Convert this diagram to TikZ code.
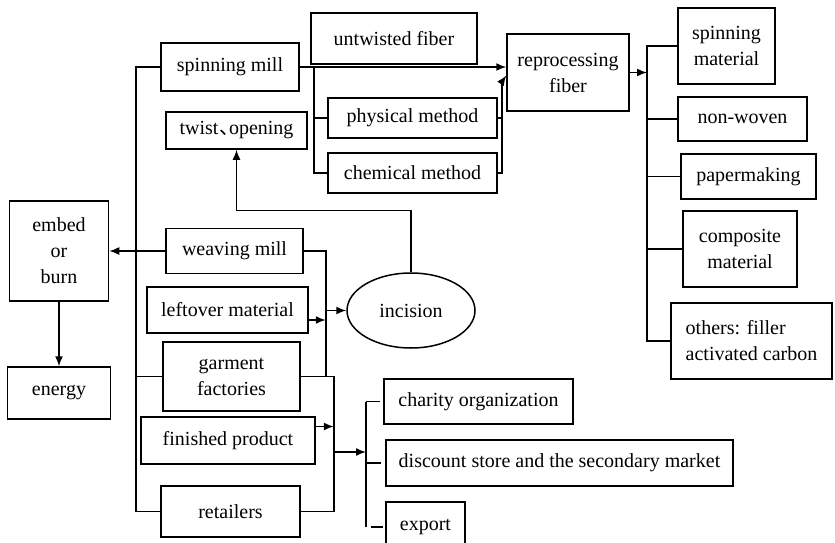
\documentclass[tikz,border=0pt]{standalone}
\usepackage{fontspec}
\setmainfont{Liberation Serif}
\newfontfamily\cjk{Noto Sans CJK SC}
\usepackage{tikz}
\usetikzlibrary{calc,shapes,arrows.meta}
\usetikzlibrary{positioning}

\begin{document}
\begin{tikzpicture}[x=1pt,y=-1pt,
		box/.style={draw,line width=1.5pt,inner sep=2pt,align=center,font=\fontsize{20}{26}\selectfont},
		ln/.style={line width=1.5pt},
		arr/.style={line width=1.5pt,-{Latex[length=10pt,width=8pt]}}]
			
			\useasboundingbox (0,0) rectangle (835,543);
			
			% left column
			\node[box,minimum width=138,minimum height=48] (spin) at (230,67) {spinning mill};
			\node[box,minimum width=141,minimum height=37] (twist) at (236.5,130.5) {twist\kern0.03em{\cjk 、}\kern-0.5em opening};
			\node[box,minimum width=137,minimum height=45] (weave) at (234.5,251) {weaving mill};
			\node[box,minimum width=161,minimum height=46] (left) at (227.5,310) {leftover material};
			\node[box,minimum width=137,minimum height=69] (garm) at (231.5,376.5) {garment\\factories};
			\node[box,minimum width=174,minimum height=47] (fin) at (228,440.5) {finished product};
			\node[box,minimum width=139,minimum height=51] (retail) at (230.5,511.5) {retailers};
			
			\node[box,minimum width=99,minimum height=100] (embed) at (59,251) {embed\\or\\burn};
			\node[box,minimum width=103,minimum height=52] (energy) at (59,393) {energy};
			
			% middle
			\node[box,minimum width=166,minimum height=51] (untw) at (394,38.5) {untwisted fiber};
			\node[box,minimum width=169,minimum height=40] (phys) at (412.5,118) {physical method};
			\node[box,minimum width=169,minimum height=40] (chem) at (412.5,173) {chemical method};
			\node[box,minimum width=122,minimum height=77] (repro) at (568,72.5) {reprocessing\\fiber};
			\node[draw,ellipse,line width=1.5pt,minimum width=128,minimum height=75,font=\fontsize{20}{26}\selectfont] (inc) at (411,310.5) {incision};
			
			% right column
			\node[box,minimum width=97,minimum height=76] (spmat) at (726.5,46) {spinning\\material};
			\node[box,minimum width=129,minimum height=44] (nonw) at (742.5,119) {non-woven};
			\node[box,minimum width=135,minimum height=45] (paper) at (748.5,176.5) {papermaking};
			\node[box,minimum width=114,minimum height=76] (compo) at (740,249) {composite\\material};
			\node[box,minimum width=161,minimum height=76,align=left] (others) at (751.5,341) {others: filler\\activated carbon};
			
			% bottom
			\node[box,minimum width=189,minimum height=45] (charity) at (478.5,401.5) {charity organization};
			\node[box,minimum width=347,minimum height=46] (disc) at (559.5,463) {discount store and the secondary market};
			\node[box,minimum width=79,minimum height=50] (export) at (425.5,527) {export};
			
			\coordinate (trunk) at (136,0);
			\coordinate (rt) at (647,0);
			\coordinate (bk) at (366,452);
			
			% trunk on the left
			\draw[ln] (spin.west) -- (spin.west -| trunk) -- (retail.west -| trunk) -- (retail.west);
			\draw[ln] (weave.west) -- (weave.west -| trunk);
			\draw[ln] (garm.west) -- (garm.west -| trunk);
			\draw[arr] (embed.east -| trunk) -- (embed.east);
			\draw[arr] (embed.south) -- (energy.north);
			
			% spinning mill branch
			\draw[ln] (spin.east) -- ++(14,0) coordinate (sj) -- (sj |- chem.west) -- (chem.west);
			\draw[ln] (sj |- phys.west) -- (phys.west);
			\draw[arr] (sj) -- (sj -| repro.west);
			\draw[ln] (phys.east) -- ++(4,0);
			\draw[ln] (chem.east) -- ++(4,0) -- ++(0,-91) coordinate (cj);
			\draw[arr] (cj) -- ($(repro.west)+(0,3)$);
			
			% reprocessing fiber to products
			\draw[arr] (repro.east) -- (repro.east -| rt);
			\draw[ln] (spmat.west) -- (spmat.west -| rt) -- (others.west -| rt) -- (others.west);
			\draw[ln] (nonw.west -| rt) -- (nonw.west);
			\draw[ln] (paper.west -| rt) -- (paper.west);
			\draw[ln] (compo.west -| rt) -- (compo.west);
			
			% incision
			\draw[arr] (inc.north) -- ++(0,-62) -| (twist.south);
			\draw[ln] (weave.east) -- ++(22,0) coordinate (wj) -- (wj |- garm.east);
			\draw[arr] ($(left.east)+(0,10)$) -- ($(left.east -| wj)+(0,10)$);
			\draw[arr] (wj |- inc.west) -- (inc.west);
			
			% garments and second hand
			\draw[ln] (garm.east) -- ++(33,0) coordinate (gj) -- (gj |- retail.east) -- (retail.east);
			\draw[arr] ($(fin.east)+(0,-14)$) -- ($(fin.east -| gj)+(0,-14)$);
			\draw[arr] (bk -| gj) -- (bk);
			\draw[ln] (bk |- charity.west) -- (bk |- export.west);
			\draw[ln] (bk |- charity.west) -- ++(14,0);
			\draw[ln] (bk |- disc.west) -- ++(15,0);
			\draw[line width=2pt] ($(bk |- export.west)+(5,0)$) -- ++(12,0);
			
		\end{tikzpicture}
\end{document}
